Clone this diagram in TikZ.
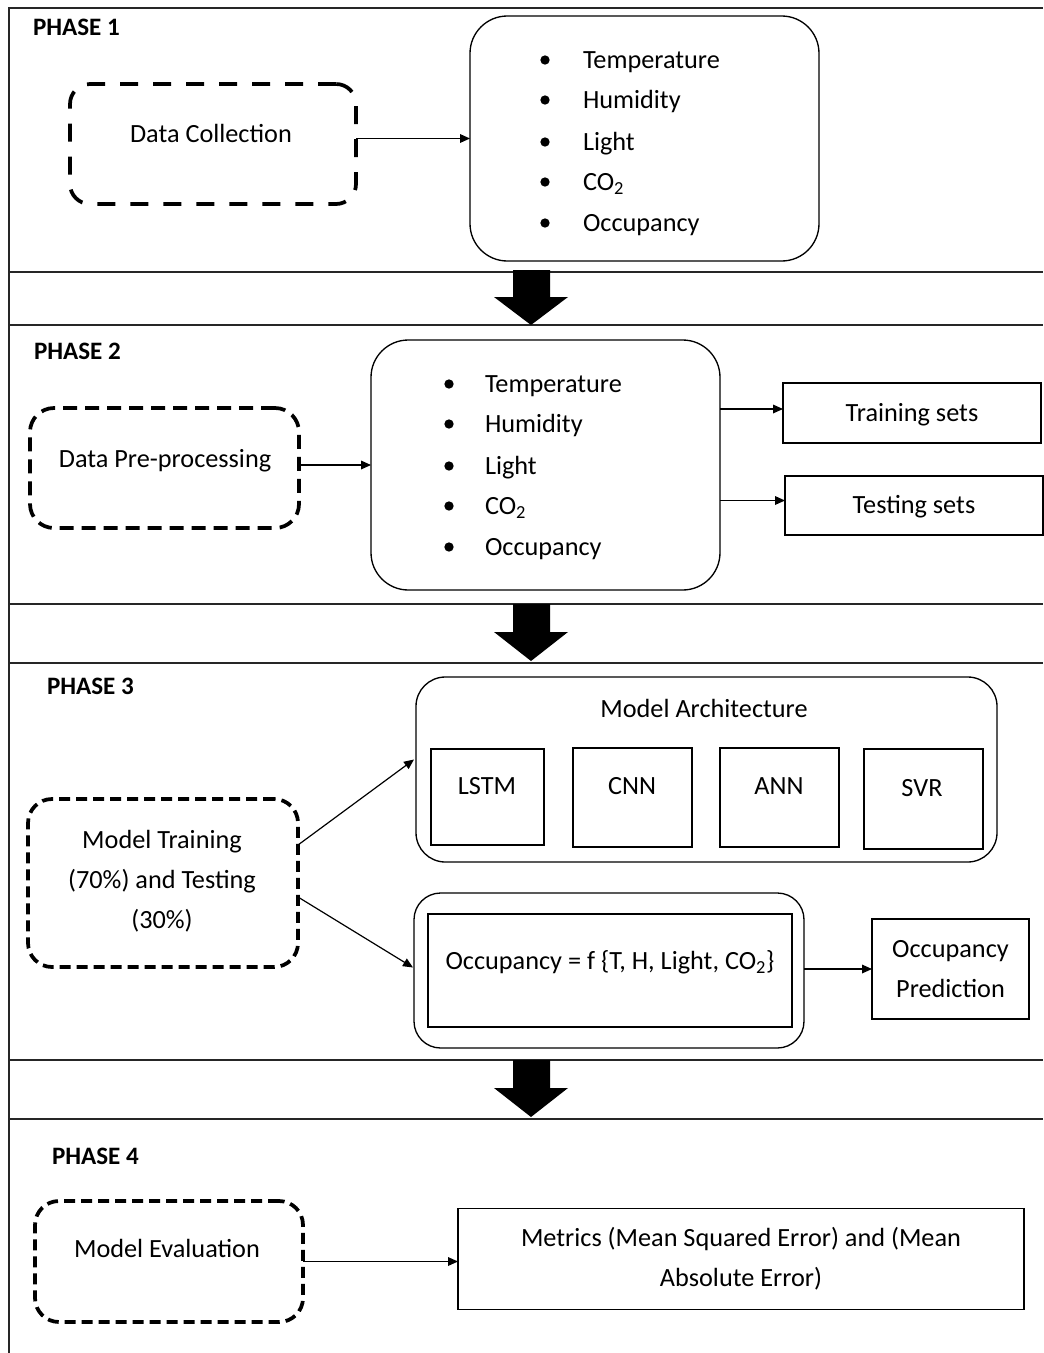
\documentclass[tikz,border=0pt]{standalone}
\usepackage{fontspec}
\setmainfont{Carlito}
\usetikzlibrary{arrows.meta,calc}
\begin{document}
\begin{tikzpicture}[x=0.75pt,y=-0.75pt,
  every node/.style={font=\fontsize{19.7}{30}\selectfont, inner sep=0pt, outer sep=0pt},
  t1/.style={text height=1.2em, text depth=0pt},
  sz/.style 2 args={minimum width=#1*0.75pt, minimum height=#2*0.75pt},
  frame/.style={line width=1.4pt, draw=black!85},
  dboxa/.style={draw, line width=2.8pt, rounded corners=15pt, dash pattern=on 13.5pt off 11.25pt},
  dboxb/.style={draw, line width=2.8pt, rounded corners=18pt, dash pattern=on 10.5pt off 6pt},
  dboxc/.style={draw, line width=2.8pt, rounded corners=18pt, dash pattern=on 8.25pt off 4.5pt},
  rbox/.style={draw, line width=1pt, rounded corners=28pt},
  sbox/.style={draw, line width=1.1pt},
  arr/.style={-{Triangle[length=7.5pt,width=6.5pt]}, line width=0.9pt},
  phase/.style={t1, font=\fontsize{18.8}{22}\bfseries\selectfont, anchor=west},
  bul/.style={circle, fill, minimum size=7pt},
  item/.style={t1, anchor=west},
]
\useasboundingbox (0,0) rectangle (1043,1353);

% frame
\draw[frame] (9,1353) -- (9,8) -- (1043,8);
\foreach \yy in {272,325,604,663,1060,1119}
  \draw[frame] (9,\yy) -- (1043,\yy);

% big arrows
\foreach \t/\h/\b in {270/297/325, 604/632/661, 1060/1088/1117}
  \fill (513,\t) -- (550,\t) -- (550,\h) -- (568,\h) -- (531,\b) -- (494,\h) -- (513,\h) -- cycle;

% ---------- PHASE 1 ----------
\node[phase] (p1) at (33,27) {PHASE 1};
\node[dboxa, sz={286}{120}] (dc) at (213,144) {};
\node[t1] (dct) at (211,134) {Data Collection};
\node[rbox, sz={349}{245}] (bl1) at (644.5,138.5) {};
\foreach \i/\yy/\txt in {1/60/Temperature, 2/100/Humidity, 3/142/Light, 4/182/{CO\textsubscript{2}}, 5/223/Occupancy}{
  \node[bul] (ba\i) at (545,\yy) {};
  \node[item] (ia\i) at (583,\yy) {\txt};
}
\draw[arr] (dc.east |- bl1.west) -- (bl1.west);

% ---------- PHASE 2 ----------
\node[phase] (p2) at (34,351) {PHASE 2};
\node[dboxb, sz={269}{120}] (dp) at (164.5,468) {};
\node[t1] (dpt) at (165,459) {Data Pre-processing};
\node[rbox, sz={349}{250}] (bl2) at (545.5,465) {};
\foreach \i/\yy/\txt in {1/384/Temperature, 2/424/Humidity, 3/466/Light, 4/506/{CO\textsubscript{2}}, 5/547/Occupancy}{
  \node[bul] (bb\i) at (449,\yy) {};
  \node[item] (ib\i) at (485,\yy) {\txt};
}
\node[sbox, t1, sz={258}{60}] (tr) at (912,413) {Training sets};
\node[sbox, t1, sz={258}{59}] (te) at (914,505.5) {Testing sets};
\draw[arr] (dp.east |- bl2.west) -- (bl2.west);
\draw[arr] ($(bl2.east |- tr.west)+(0,-4)$) -- ($(tr.west)+(0,-4)$);
\draw[arr] ($(bl2.east |- te.west)+(0,-5)$) -- ($(te.west)+(0,-5)$);

% ---------- PHASE 3 ----------
\node[phase] (p3) at (47,686) {PHASE 3};
\node[dboxc, sz={270}{168}] (mt) at (163,883) {};
\node[align=center] (mtt) at (162,881) {Model Training\\(70\%) and Testing\\(30\%)};
\node[rbox, rounded corners=22pt, sz={581}{185}] (ma) at (706.5,769.5) {};
\node[t1] (mat) at (704,709) {Model Architecture};
\node[sbox, sz={113}{96}] (lstm) at (487.5,797) {};
\node[t1] (lstmt) at (487,786) {LSTM};
\node[sbox, sz={119}{99}] (cnn) at (632.5,797.5) {};
\node[t1] (cnnt) at (632,786) {CNN};
\node[sbox, sz={119}{99}] (ann) at (779.5,797.5) {};
\node[t1] (annt) at (779,786) {ANN};
\node[sbox, sz={119}{100}] (svr) at (923.5,799) {};
\node[t1] (svrt) at (922,788) {SVR};
\node[rbox, rounded corners=20pt, sz={390}{155}] (oc) at (609,970.5) {};
\node[sbox, sz={364}{113}] (ocin) at (610,970.5) {};
\node[t1] (oct) at (610,961) {Occupancy = f \{T, H, Light, CO\textsubscript{2}\}};
\node[sbox, sz={157}{100}, align=center] (pred) at (950.5,969) {Occupancy\\Prediction};
\draw[arr] ($(mt.east)+(0,-38)$) -- ($(ma.west)+(-2,-10)$);
\draw[arr] ($(mt.east)+(0,14)$) -- ($(oc.west)+(-1,-3)$);
\draw[arr] (oc.east |- pred.west) -- (pred.west);

% ---------- PHASE 4 ----------
\node[phase] (p4) at (52,1156) {PHASE 4};
\node[dboxc, sz={268}{121}] (me) at (169,1261.5) {};
\node[t1] (met) at (167,1249) {Model Evaluation};
\node[sbox, sz={566}{101}, align=center] (mx) at (741,1259) {Metrics (Mean Squared Error) and (Mean\\Absolute Error)};
\draw[arr] (me.east) -- (me.east -| mx.west);
\end{tikzpicture}
\end{document}
